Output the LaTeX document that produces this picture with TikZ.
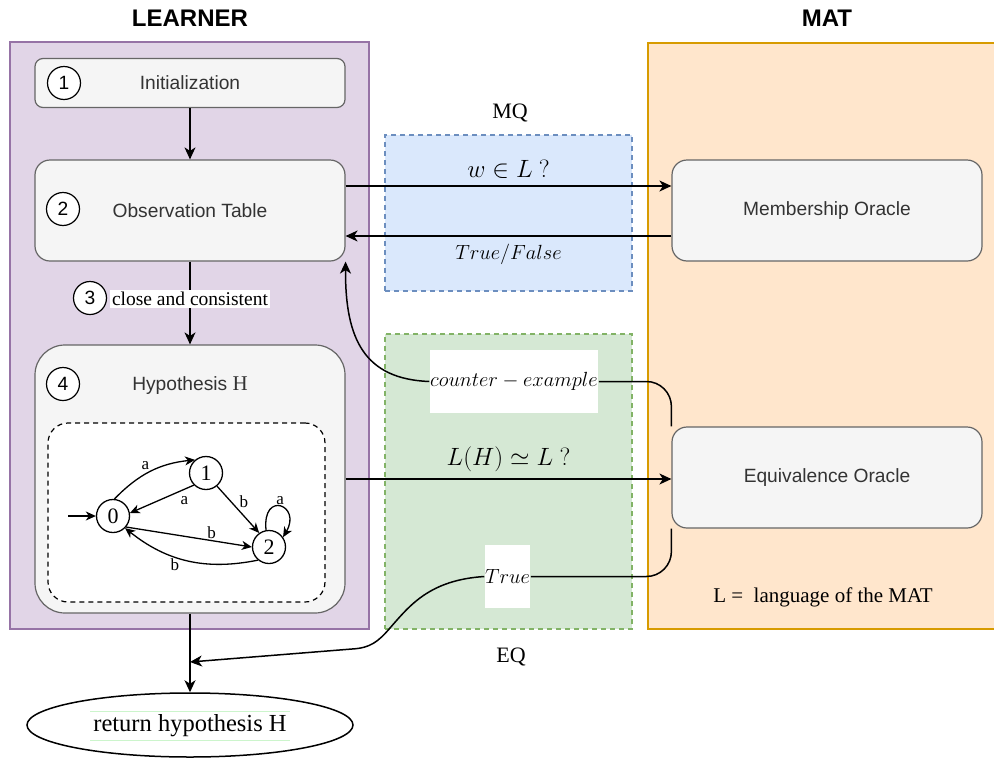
\RequirePackage{fix-cm}
\documentclass[tikz,border=0pt]{standalone}
\usepackage[no-math]{fontspec}
\setmainfont{Liberation Serif}
\setsansfont{Liberation Sans}
\usetikzlibrary{arrows.meta,shapes.geometric}

\definecolor{lrnfill}{HTML}{E1D5E7}
\definecolor{lrnline}{HTML}{9673A6}
\definecolor{matfill}{HTML}{FFE6CC}
\definecolor{matline}{HTML}{D79B00}
\definecolor{mqfill}{HTML}{DAE8FC}
\definecolor{mqline}{HTML}{6C8EBF}
\definecolor{eqfill}{HTML}{D5E8D4}
\definecolor{eqline}{HTML}{82B366}
\definecolor{boxfill}{HTML}{F5F5F5}
\definecolor{boxline}{HTML}{666666}
\definecolor{boxtext}{HTML}{333333}
\definecolor{retgreen}{HTML}{CCF5CC}

\newcommand\lbltitle{\sffamily\bfseries\fontsize{24}{28}\selectfont}
\newcommand\lblsans{\sffamily\fontsize{19.2}{23}\selectfont}
\newcommand\lblserif{\rmfamily\fontsize{19.5}{23}\selectfont}
\newcommand\lblhead{\rmfamily\fontsize{22}{26}\selectfont}
\newcommand\lblmath{\fontsize{20.5}{24}\selectfont}
\newcommand\lblbig{\fontsize{25}{28}\selectfont}
\newcommand\lblret{\rmfamily\fontsize{24.5}{28}\selectfont}
\newcommand\lbllang{\rmfamily\fontsize{21}{25}\selectfont}
\newcommand\lblauto{\rmfamily\fontsize{17}{20}\selectfont}
\newcommand\lblstate{\rmfamily\fontsize{22}{26}\selectfont}

\begin{document}
\begin{tikzpicture}[x=1pt,y=-1pt,line width=1.5pt,
    >={Stealth[length=12pt,width=11pt,inset=3.5pt]},
    region/.style={draw,line width=1.2pt,inner sep=0pt},
    box/.style={draw=boxline,fill=boxfill,text=boxtext,line width=1.2pt,inner sep=0pt,
                minimum width=310pt,rounded corners=15pt,font=\lblsans},
    num/.style={circle,draw,fill=white,line width=1.2pt,minimum size=33pt,inner sep=0pt,font=\lblsans},
    qstate/.style={circle,draw,fill=white,line width=1.3pt,minimum size=33pt,inner sep=0pt,font=\lblstate},
    lbl/.style={fill=white,inner sep=2pt}]
\useasboundingbox (0,0) rectangle (994,758);

\begin{scope}[every node/.style={region}]
    \node[draw=lrnline,fill=lrnfill,minimum width=359pt,minimum height=587pt] (learner) at (189.5,335.5) {};
    \node[draw=matline,fill=matfill,minimum width=360pt,minimum height=586pt] (mat) at (828,336) {};
    \node[draw=mqline,fill=mqfill,dash pattern=on 5pt off 4pt,minimum width=247pt,minimum height=156pt] (mq) at (508.5,213) {};
    \node[draw=eqline,fill=eqfill,dash pattern=on 5pt off 4pt,minimum width=247pt,minimum height=295pt] (eq) at (508.5,481.5) {};
\end{scope}

\node[font=\lbltitle] (lrntitle) at (190,18) {LEARNER};
\node[font=\lbltitle] (mattitle) at (827,18) {MAT};
\node[font=\lblhead] (mqtitle) at (510,113) {MQ};
\node[font=\lblhead] (eqtitle) at (511,657) {EQ};
\node[font=\lbllang] (lang) at (823,597) {L =\ \ language of the MAT};

\begin{scope}[every node/.style={box}]
    \node[rounded corners=8pt,minimum height=49pt] (init) at (190,83) {Initialization};
    \node[minimum height=101pt] (obs) at (190,210.5) {Observation Table};
    \node[rounded corners=30pt,minimum height=268pt] (hyp) at (190,479) {};
    \node[minimum height=101pt] (mo) at (827,210.5) {Membership Oracle};
    \node[minimum height=101pt] (eo) at (827,477.5) {Equivalence Oracle};
\end{scope}

\node[font=\lblsans,text=boxtext] (hyptext) at (190,386) {Hypothesis {\rmfamily\fontsize{21}{24}\selectfont H}};
\node[draw,dash pattern=on 5pt off 4pt,fill=white,line width=1.2pt,rounded corners=20pt,minimum width=277pt,
      minimum height=179pt,inner sep=0pt] (dfa) at (186.5,512.5) {};

\begin{scope}[every node/.style={num}]
    \node (n1) at (64,83) {1};
    \node (n2) at (63,209) {2};
    \node (n3) at (90,298) {3};
    \node (n4) at (63,384) {4};
\end{scope}

\begin{scope}[every node/.style={qstate}]
    \node (q0) at (113,516) {0};
    \node (q1) at (206,473) {1};
    \node (q2) at (269,547) {2};
\end{scope}
\coordinate (q0in) at (68,516);

\begin{scope}[line width=1.3pt,>={Stealth[length=10pt,width=9pt,inset=3pt]},
              every node/.style={font=\lblauto,inner sep=1pt}]
    \path [->] (q0in) edge (q0);
    \path [->] (q0.85) edge[bend left=20] node[above left] {a} (q1.130);
    \path [->] (q1.225) edge node[pos=0.15,below=6pt] {a} (q0.10);
    \path [->] (q1.-50) edge node[above right] {b} (q2.125);
    \path [->] (q0.-40) edge node[pos=0.68,above] {b} (q2.180);
    \path [->] (q2.230) edge[bend left=25] node[pos=0.6,below] {b} (q0.-45);
    \draw [->] (q2.100) .. controls (262,490) and (302,505) .. node[pos=0.5,above] {a} (q2.35);
\end{scope}

\node[ellipse,draw,line width=1.5pt,minimum width=326pt,minimum height=64pt,inner sep=0pt] (ret) at (190,725) {};
\node[font=\lblret,inner sep=2.5pt] (rettext) at (190,726) {return hypothesis H};
\draw[line width=1pt,retgreen] (rettext.north west) -- (rettext.north east)
      (rettext.south west) -- (rettext.south east);

\node[lbl,font=\lblmath,minimum width=168pt,minimum height=63pt,inner sep=0pt] (cex) at (514,381.5) {$counter-example$};
\node[lbl,font=\lblmath,minimum width=45pt,minimum height=63pt,inner sep=0pt] (tru) at (507.5,576.5) {$True$};
\coordinate (meet) at (190,662);

\begin{scope}[every node/.style={lbl}]
    \path [->] (init) edge (obs);
    \path [->] (obs) edge node[pos=0.45,font=\lblserif] {close and consistent} (hyp);
    \path [->] ([yshift=24.5pt]obs.east) edge node[above,fill=none,inner sep=7pt,font=\lblbig] {$w \in L\ ?$} ([yshift=24.5pt]mo.west);
    \path [->] ([yshift=-25.5pt]mo.west) edge node[below,fill=none,inner sep=7pt,font=\lblmath] {$True/False$} ([yshift=-25.5pt]obs.east);
    \path [->] (hyp.east) edge node[above,fill=none,inner sep=7pt,font=\lblbig] {$L(H) \simeq L\ ?$} (hyp.east -| eo.west);
    \path [->] (hyp) edge (ret);
\end{scope}

\draw[rounded corners=25pt] (eo.north west) |- (cex.east);
\draw[->] (cex.west) .. controls (365,379) and (345,340) .. (obs.south east);
\draw[rounded corners=25pt] (eo.south west) |- (tru.east);
\draw[->] (tru.west) .. controls (430,580) and (410,605) .. (390,628)
      .. controls (378,642) and (370,648) .. (352,649) -- (meet);
\end{tikzpicture}
\end{document}
